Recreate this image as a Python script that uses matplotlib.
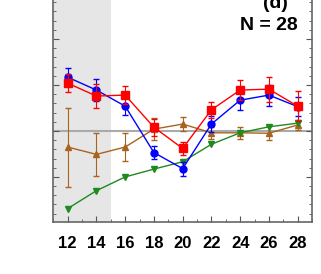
import numpy as np
import matplotlib
matplotlib.use("Agg")
import matplotlib.pyplot as plt
from matplotlib.ticker import MultipleLocator

plt.rcParams['font.family'] = ['Liberation Sans Narrow', 'Liberation Sans', 'DejaVu Sans']

# values
x = np.array([12, 14, 16, 18, 20, 22, 24, 26, 28])

blue = np.array([1.17, 0.89, 0.54, -0.47, -0.82, 0.15, 0.67, 0.78, 0.53])
blue_err = np.array([0.20, 0.24, 0.20, 0.15, 0.15, 0.17, 0.22, 0.23, 0.20])

red = np.array([1.04, 0.76, 0.78, 0.08, -0.38, 0.46, 0.89, 0.91, 0.54])
red_err = np.array([0.19, 0.26, 0.19, 0.18, 0.15, 0.18, 0.22, 0.27, 0.33])

brown = np.array([-0.35, -0.51, -0.35, 0.04, 0.15, -0.04, -0.04, -0.05, 0.13])
brown_err = np.array([0.86, 0.47, 0.30, 0.24, 0.15, 0.13, 0.13, 0.15, 0.10])

green = np.array([-1.69, -1.30, -1.00, -0.83, -0.67, -0.29, -0.04, 0.09, 0.17])

fig = plt.figure(figsize=(3.21, 2.74), dpi=100)
ax = fig.add_axes([0.166, 0.19, 0.806, 0.81])

ax.axvspan(11, 15, color='#e6e6e6', zorder=0, lw=0)
ax.axhline(0, color='#aaaaaa', lw=1.5, zorder=1)

ax.errorbar(x, brown, yerr=brown_err, color='#a8641e', marker='^', ms=5,
            lw=1, elinewidth=0.8, capsize=2, zorder=3)
ax.errorbar(x, green, color='#1f8a1f', marker='v', ms=5, lw=1, zorder=3)
ax.errorbar(x, blue, yerr=blue_err, color='#0000ff', marker='o', ms=5,
            lw=1, elinewidth=0.8, capsize=2, zorder=4)
ax.errorbar(x, red, yerr=red_err, color='#ff0000', marker='s', ms=5.5,
            lw=1, elinewidth=0.8, capsize=2, zorder=5)

ax.set_xlim(11, 29)
ax.set_ylim(-1.98, 2.85)
ax.set_xticks(x)
ax.xaxis.set_minor_locator(MultipleLocator(1))
ax.yaxis.set_major_locator(MultipleLocator(1))
ax.yaxis.set_minor_locator(MultipleLocator(0.2))
ax.tick_params(which='both', direction='in', left=True, right=True,
               bottom=True, top=False, labelleft=False, colors='#555555')
ax.tick_params(which='major', length=4)
ax.tick_params(which='minor', length=2)
ax.tick_params(axis='x', labelsize=12, labelcolor='black', pad=10)
for lab in ax.get_xticklabels():
    lab.set_fontweight('bold')

ax.spines['top'].set_visible(False)
for s in ['left', 'right', 'bottom']:
    ax.spines[s].set_color('#666666')
    ax.spines[s].set_linewidth(1.2)

ax.text(0.86, 0.985, '(d)', transform=ax.transAxes, ha='center', va='center',
        fontsize=14, fontweight='bold')
ax.text(0.945, 0.885, 'N = 28', transform=ax.transAxes, ha='right', va='center',
        fontsize=14, fontweight='bold')

fig.savefig('out.png', dpi=100)
